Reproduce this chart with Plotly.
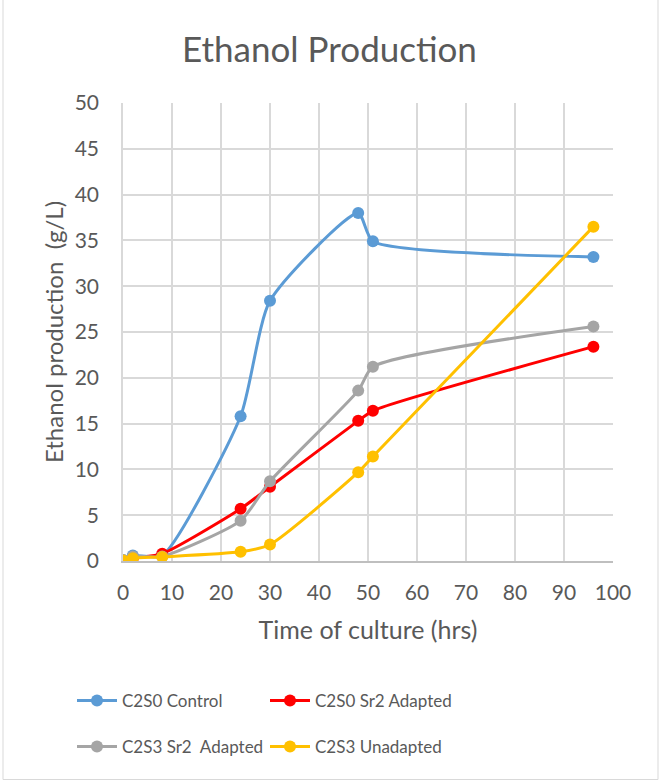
import plotly.graph_objects as go

# Sampling times (hrs)
time_hrs = [0, 2, 8, 24, 30, 48, 51, 96]

# Ethanol concentration (g/L) per strain/condition
c2s0_control = [0.1, 0.6, 0.6, 15.8, 28.4, 38.0, 34.9, 33.2]
c2s0_sr2_adapted = [0.0, 0.3, 0.8, 5.7, 8.1, 15.3, 16.4, 23.4]
c2s3_sr2_adapted = [0.1, 0.5, 0.5, 4.4, 8.7, 18.6, 21.2, 25.6]
c2s3_unadapted = [0.05, 0.3, 0.45, 1.0, 1.8, 9.7, 11.4, 36.5]

series_names = ["C2S0 Control", "C2S0 Sr2 Adapted", "C2S3 Sr2  Adapted", "C2S3 Unadapted"]
series_values = [c2s0_control, c2s0_sr2_adapted, c2s3_sr2_adapted, c2s3_unadapted]
series_colors = ["#5B9BD5", "#FF0000", "#A5A5A5", "#FFC000"]
series_legends = ["legend", "legend2", "legend3", "legend4"]

x_ticks = list(range(0, 101, 10))
y_ticks = list(range(0, 51, 5))

FONT = "Lato, Calibri, Carlito, sans-serif"
TEXT = "#595959"
GRID = "#D9D9D9"

fig = go.Figure()
for name, vals, col, leg in zip(series_names, series_values, series_colors, series_legends):
    fig.add_trace(go.Scatter(
        x=time_hrs, y=vals, name=name, mode="lines+markers",
        line=dict(color=col, width=3, shape="spline", smoothing=0.6),
        marker=dict(color=col, size=12),
        legend=leg, showlegend=True,
    ))

W, H = 659, 781
ML, MR, MT, MB = 123, 46, 103, 220
pw, ph = W - ML - MR, H - MT - MB

def px_x(px):
    return (px - ML) / pw

def px_y(py):
    return (H - MB - py) / ph

legend_style = dict(orientation="h", xanchor="left", yanchor="middle", itemwidth=40,
                    visible=True, font=dict(size=17, color=TEXT), bgcolor="rgba(0,0,0,0)")

# 2 x 2 legend grid: (left px, centre-line px)
legend_pos = [(72, 701), (265, 701), (72, 747), (265, 747)]

layout_legends = {}
for key, (lx, ly) in zip(series_legends, legend_pos):
    layout_legends[key] = dict(x=px_x(lx), y=px_y(ly), **legend_style)

fig.update_layout(
    width=W, height=H,
    margin=dict(l=ML, r=MR, t=MT, b=MB),
    showlegend=True,
    paper_bgcolor="white", plot_bgcolor="white",
    font=dict(family=FONT, color=TEXT, size=20),
    title=dict(text="Ethanol Production", x=0.5, xref="container", xanchor="center",
               y=1 - 50 / H, yref="container", yanchor="middle",
               font=dict(size=35, color=TEXT, family=FONT)),
    xaxis=dict(range=[0, 100], tickvals=x_ticks, showgrid=True, gridcolor=GRID, gridwidth=1.5,
               showline=True, linecolor="#BFBFBF", linewidth=1.5, zeroline=False,
               ticks="", ticklabelstandoff=12, tickfont=dict(size=21, color=TEXT),
               title=dict(text="Time of culture (hrs)", font=dict(size=25, color=TEXT), standoff=19)),
    yaxis=dict(range=[0, 50], tickvals=y_ticks, showgrid=True, gridcolor=GRID, gridwidth=1.5,
               showline=True, linecolor=GRID, linewidth=1.5, zeroline=False,
               ticks="", ticklabelstandoff=18, tickfont=dict(size=21, color=TEXT),
               title=dict(text="Ethanol production  (g/L)", font=dict(size=24, color=TEXT), standoff=4)),
    shapes=[dict(type="rect", xref="paper", yref="paper",
                 x0=px_x(3), x1=px_x(658), y0=px_y(779.5), y1=px_y(-5),
                 line=dict(color=GRID, width=1), fillcolor="rgba(0,0,0,0)", layer="below")],
    **layout_legends,
)

fig.write_html("out.html")
